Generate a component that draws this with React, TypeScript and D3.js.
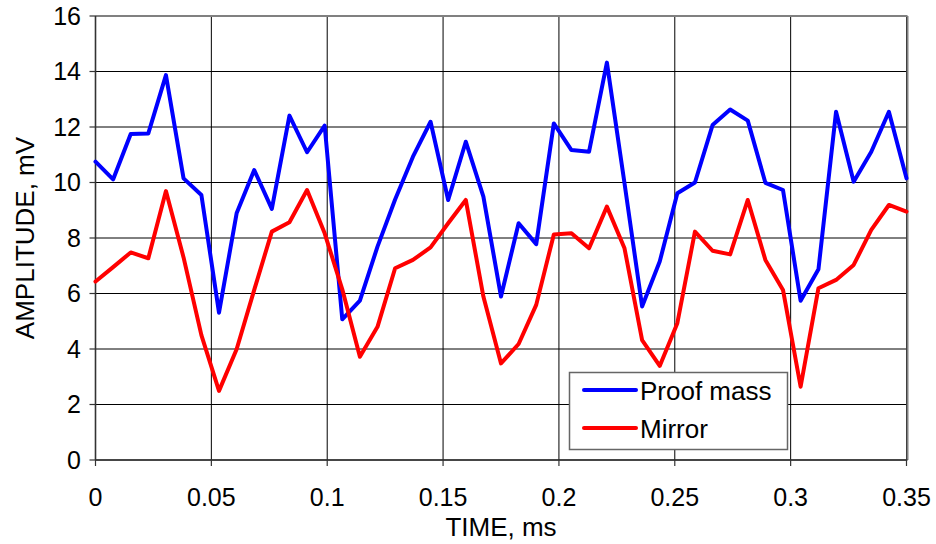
import React from "react";
import * as d3 from "d3";

const TIME = [
  0, 0.0076, 0.0152, 0.0228, 0.0304, 0.038, 0.0457, 0.0533, 0.0609, 0.0685,
  0.0761, 0.0837, 0.0913, 0.0989, 0.1065, 0.1141, 0.1217, 0.1293, 0.137, 0.1446,
  0.1522, 0.1598, 0.1674, 0.175, 0.1826, 0.1902, 0.1978, 0.2054, 0.213, 0.2207,
  0.2283, 0.2359, 0.2435, 0.2511, 0.2587, 0.2663, 0.2739, 0.2815, 0.2891, 0.2967,
  0.3043, 0.312, 0.3196, 0.3272, 0.3348, 0.3424, 0.35,
];

const PROOF_MASS = [
  10.75, 10.11, 11.75, 11.77, 13.87, 10.15, 9.55, 5.31, 8.89, 10.45,
  9.05, 12.41, 11.09, 12.05, 5.07, 5.74, 7.69, 9.39, 10.93, 12.19,
  9.37, 11.47, 9.49, 5.89, 8.53, 7.78, 12.13, 11.17, 11.11, 14.32,
  9.97, 5.53, 7.15, 9.61, 10.0, 12.07, 12.63, 12.23, 9.99, 9.73,
  5.74, 6.87, 12.55, 10.03, 11.11, 12.55, 10.15,
];

const MIRROR = [
  6.43, 6.95, 7.48, 7.27, 9.69, 7.3, 4.5, 2.49, 3.99, 6.13,
  8.23, 8.57, 9.73, 8.17, 6.15, 3.72, 4.8, 6.91, 7.21, 7.66,
  8.53, 9.37, 5.89, 3.48, 4.18, 5.59, 8.13, 8.17, 7.63, 9.13,
  7.63, 4.32, 3.39, 4.93, 8.23, 7.54, 7.41, 9.37, 7.21, 6.13,
  2.64, 6.19, 6.49, 7.03, 8.29, 9.19, 8.95,
];

const X_TICKS = [0, 0.05, 0.1, 0.15, 0.2, 0.25, 0.3, 0.35];
const Y_TICKS = [0, 2, 4, 6, 8, 10, 12, 14, 16];
const SERIES_NAMES = ["Proof mass", "Mirror"];
const SERIES_COLORS = ["#0000FF", "#FF0000"];

const W = 936;
const H = 544;
const PL = 95.5;
const PR = 906.5;
const PT = 16;
const PB = 460;
const FONT = "'Liberation Sans', Arial, sans-serif";

export default function App() {
  const x = d3.scaleLinear().domain([0, 0.35]).range([PL, PR]);
  const y = d3.scaleLinear().domain([0, 16]).range([PB, PT]);
  const line = d3
    .line<number>()
    .x((_, i) => x(TIME[i]))
    .y((d) => y(d));
  const series = [PROOF_MASS, MIRROR];

  return (
    <svg
      width={W}
      height={H}
      viewBox={`0 0 ${W} ${H}`}
      style={{ position: "absolute", left: 0, top: 0, background: "#fff" }}
      fontFamily={FONT}
    >
      <rect x={0} y={0} width={W} height={H} fill="#fff" />
      {/* grid */}
      {Y_TICKS.map((t) => (
        <line key={"gy" + t} x1={PL} x2={PR} y1={y(t)} y2={y(t)} stroke="#000" strokeWidth={1} />
      ))}
      {X_TICKS.map((t) => (
        <line key={"gx" + t} x1={x(t)} x2={x(t)} y1={PT} y2={PB} stroke="#000" strokeWidth={1} />
      ))}
      {/* plot frame top/right */}
      <line x1={PL} x2={PR + 1} y1={PT} y2={PT} stroke="#808080" strokeWidth={2} />
      <line x1={PR + 1} x2={PR + 1} y1={PT} y2={PB} stroke="#808080" strokeWidth={2} />
      {/* axes */}
      <line x1={PL} x2={PL} y1={PT} y2={PB} stroke="#333" strokeWidth={1.6} />
      <line x1={PL} x2={PR + 1} y1={PB} y2={PB} stroke="#333" strokeWidth={1.6} />
      {Y_TICKS.map((t) => (
        <g key={"ty" + t}>
          <line x1={PL - 6} x2={PL} y1={y(t)} y2={y(t)} stroke="#333" strokeWidth={1.2} />
          <text
            x={81}
            y={y(t)}
            dy="0.35em"
            textAnchor="end"
            fontSize={25}
            fill="#000"
          >
            {t}
          </text>
        </g>
      ))}
      {X_TICKS.map((t) => (
        <g key={"tx" + t}>
          <line x1={x(t)} x2={x(t)} y1={PB} y2={PB + 6} stroke="#333" strokeWidth={1.2} />
          <text x={x(t)} y={506} textAnchor="middle" fontSize={25} fill="#000">
            {t}
          </text>
        </g>
      ))}
      {/* axis titles */}
      <text x={(PL + PR) / 2} y={536} textAnchor="middle" fontSize={26} fill="#000">
        TIME, ms
      </text>
      <text
        transform={`translate(34, ${(PT + PB) / 2}) rotate(-90)`}
        textAnchor="middle"
        fontSize={26}
        fill="#000"
      >
        AMPLITUDE, mV
      </text>
      {/* lines */}
      {series.map((s, i) => (
        <path
          key={SERIES_NAMES[i]}
          d={line(s) || ""}
          fill="none"
          stroke={SERIES_COLORS[i]}
          strokeWidth={4}
          strokeLinejoin="round"
          strokeLinecap="round"
        />
      ))}
      {/* legend */}
      <rect x={569.5} y={372.5} width={218} height={77} fill="#fff" stroke="#666" strokeWidth={1.5} />
      {SERIES_NAMES.map((n, i) => (
        <g key={"lg" + n}>
          <line
            x1={584}
            x2={636}
            y1={390 + i * 38}
            y2={390 + i * 38}
            stroke={SERIES_COLORS[i]}
            strokeWidth={4}
            strokeLinecap="round"
          />
          <text x={640} y={400 + i * 38} fontSize={26} fill="#000">
            {n}
          </text>
        </g>
      ))}
    </svg>
  );
}
